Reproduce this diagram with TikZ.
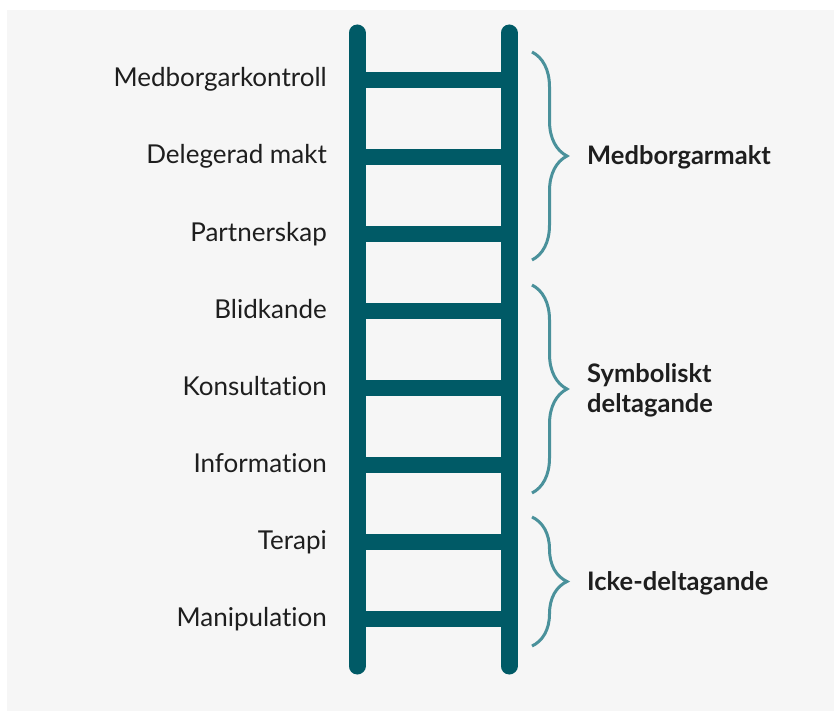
\documentclass[tikz,border=0pt]{standalone}
\usepackage{fontspec}
\setmainfont{Lato}[Ligatures={NoCommon}]
\usetikzlibrary{decorations.pathreplacing}

\definecolor{railcol}{HTML}{005A66}
\definecolor{bracecol}{HTML}{4A919B}
\definecolor{bgcol}{HTML}{F6F6F6}
\definecolor{inkcol}{HTML}{1E1E1E}

\tikzset{
    rail/.style={draw=railcol, line width=17pt, line cap=round},
    rung/.style={draw=railcol, line width=16pt},
    runglabel/.style={anchor=base east, inner sep=0pt, text=inkcol,
        font=\fontsize{26}{30}\selectfont},
    grouplabel/.style={anchor=base west, inner sep=0pt, text=inkcol, align=left,
        font=\fontsize{25.5}{30}\selectfont\bfseries},
    groupbrace/.style={draw=bracecol, line width=3pt,
        decorate, decoration={brace, amplitude=35pt}},
}

\begin{document}
\begin{tikzpicture}[x=1pt, y=-1pt]
    \useasboundingbox (0,0) rectangle (834,711);
    \fill[bgcol] (7,10) rectangle (834,711);

    % rails
    \coordinate (lt) at (357,33);
    \coordinate (lb) at (357,666);
    \coordinate (rt) at (509,33);
    \coordinate (rb) at (509,666);

    % rungs and their labels
    \foreach \name [count=\i from 0] in {Medborgarkontroll, Delegerad makt,
            Partnerskap, Blidkande, Konsultation, Information, Terapi, Manipulation} {
        \coordinate (l\i) at (357,80+77*\i);
        \coordinate (r\i) at (509,80+77*\i);
        \draw[rung] (l\i) -- (r\i);
        \node[runglabel] (lab\i) at ([xshift=-30pt, yshift=-7pt]l\i) {\name};
    }

    \draw[rail] (lt) -- (lb);
    \draw[rail] (rt) -- (rb);

    % braces
    \coordinate (b1s) at (532,52);
    \coordinate (b1e) at (532,260);
    \coordinate (b2s) at (532,285);
    \coordinate (b2e) at (532,493);
    \coordinate (b3s) at (532,517);
    \coordinate (b3e) at (532,646);

    \draw[groupbrace] (b1s) -- (b1e);
    \draw[groupbrace] (b2s) -- (b2e);
    \draw[groupbrace] (b3s) -- (b3e);

    \node[grouplabel] (g1) at (587,165) {Medborgarmakt};
    \node[grouplabel] (g2) at (587,412) {Symboliskt\\deltagande};
    \node[grouplabel] (g3) at (587,590) {Icke-deltagande};
\end{tikzpicture}
\end{document}
